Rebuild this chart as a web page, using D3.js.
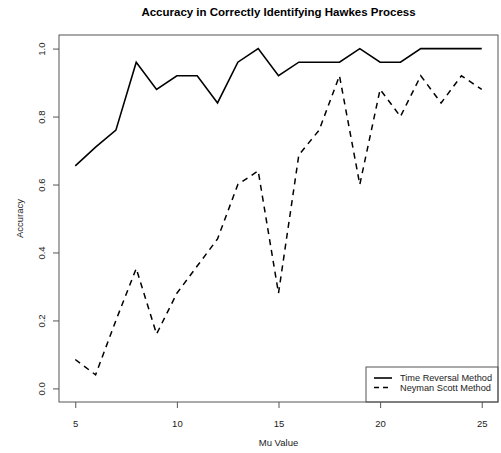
<!DOCTYPE html>
<html>
<head>
<meta charset="utf-8">
<script src="https://cdn.jsdelivr.net/npm/d3@7"></script>
<style>
  html, body { margin: 0; padding: 0; background: #fff; }
  svg { display: block; font-family: "Liberation Sans", Arial, sans-serif; }
</style>
</head>
<body>
<svg id="chart" width="501" height="453"></svg>
<script>
// Mu values on the x axis
const muValues = [5, 6, 7, 8, 9, 10, 11, 12, 13, 14, 15, 16, 17, 18, 19, 20, 21, 22, 23, 24, 25];
// Accuracy of each method for every mu value
const timeReversal = [0.655, 0.71, 0.76, 0.96, 0.88, 0.92, 0.92, 0.84, 0.96, 1.0, 0.92, 0.96, 0.96, 0.96, 1.0, 0.96, 0.96, 1.0, 1.0, 1.0, 1.0];
const neymanScott = [0.085, 0.04, 0.2, 0.353, 0.16, 0.28, 0.36, 0.44, 0.60, 0.64, 0.28, 0.687, 0.76, 0.92, 0.60, 0.88, 0.80, 0.92, 0.84, 0.92, 0.88];
const xTicks = [5, 10, 15, 20, 25];
const yTicks = [0.0, 0.2, 0.4, 0.6, 0.8, 1.0];
const seriesNames = ["Time Reversal Method", "Neyman Scott Method"];

const svg = d3.select("#chart");
const box = { left: 59, right: 498, top: 35, bottom: 402 };
const ink = "#222";
const frame = "#555";
const labelSize = 9.5;

// R-style 4% padding around the data range
const x = d3.scaleLinear().domain([4.2, 25.8]).range([box.left, box.right]);
const y = d3.scaleLinear().domain([-0.04, 1.04]).range([box.bottom, box.top]);

// Title
svg.append("text")
  .attr("x", (box.left + box.right) / 2).attr("y", 16)
  .attr("text-anchor", "middle")
  .attr("font-size", 11.5).attr("font-weight", "bold").attr("fill", "#000")
  .text("Accuracy in Correctly Identifying Hawkes Process");

// Axes
const xAxis = svg.append("g")
  .attr("transform", `translate(0,${box.bottom})`)
  .call(d3.axisBottom(x).tickValues(xTicks).tickSize(6).tickPadding(12).tickFormat(d3.format("d")));
const yAxis = svg.append("g")
  .attr("transform", `translate(${box.left},0)`)
  .call(d3.axisLeft(y).tickValues(yTicks).tickSize(6).tickPadding(0).tickFormat(d3.format(".1f")));

[xAxis, yAxis].forEach(g => {
  g.select(".domain").remove();
  g.selectAll(".tick line").attr("stroke", frame);
  g.selectAll(".tick text").attr("font-size", labelSize).attr("fill", ink)
    .attr("font-family", "Liberation Sans, Arial, sans-serif");
});
yAxis.selectAll(".tick text")
  .attr("text-anchor", "middle")
  .attr("x", null)
  .attr("transform", "translate(-17,0) rotate(-90)")
  .attr("dy", "0.35em");

// Axis titles
svg.append("text")
  .attr("x", (box.left + box.right) / 2).attr("y", 443).attr("dy", "0.35em")
  .attr("text-anchor", "middle").attr("font-size", labelSize).attr("fill", ink)
  .text("Mu Value");
svg.append("text")
  .attr("transform", `translate(20,${(box.top + box.bottom) / 2}) rotate(-90)`)
  .attr("dy", "0.35em")
  .attr("text-anchor", "middle").attr("font-size", labelSize).attr("fill", ink)
  .text("Accuracy");

// Data lines
const line = d3.line().x(d => x(d[0])).y(d => y(d[1]));
svg.append("path")
  .datum(muValues.map((m, i) => [m, timeReversal[i]]))
  .attr("d", line).attr("fill", "none").attr("stroke", "#000").attr("stroke-width", 1.6);
svg.append("path")
  .datum(muValues.map((m, i) => [m, neymanScott[i]]))
  .attr("d", line).attr("fill", "none").attr("stroke", "#000").attr("stroke-width", 1.5)
  .attr("stroke-dasharray", "6,5");

// Legend
const leg = { left: 366, top: 367 };
svg.append("rect")
  .attr("x", leg.left).attr("y", leg.top)
  .attr("width", box.right - leg.left).attr("height", box.bottom - leg.top)
  .attr("fill", "#fff").attr("stroke", frame).attr("stroke-width", 1);
seriesNames.forEach((name, i) => {
  const ly = 378 + i * 9.5;
  svg.append("line")
    .attr("x1", 374).attr("x2", 392).attr("y1", ly).attr("y2", ly)
    .attr("stroke", "#000").attr("stroke-width", i === 0 ? 1.6 : 1.5)
    .attr("stroke-dasharray", i === 0 ? null : "5,4");
  svg.append("text")
    .attr("x", 400).attr("y", ly).attr("dy", "0.35em")
    .attr("font-size", 9.2).attr("fill", ink)
    .text(name);
});

// Plot frame
svg.append("rect")
  .attr("x", box.left).attr("y", box.top)
  .attr("width", box.right - box.left).attr("height", box.bottom - box.top)
  .attr("fill", "none").attr("stroke", frame).attr("stroke-width", 1);
</script>
</body>
</html>
